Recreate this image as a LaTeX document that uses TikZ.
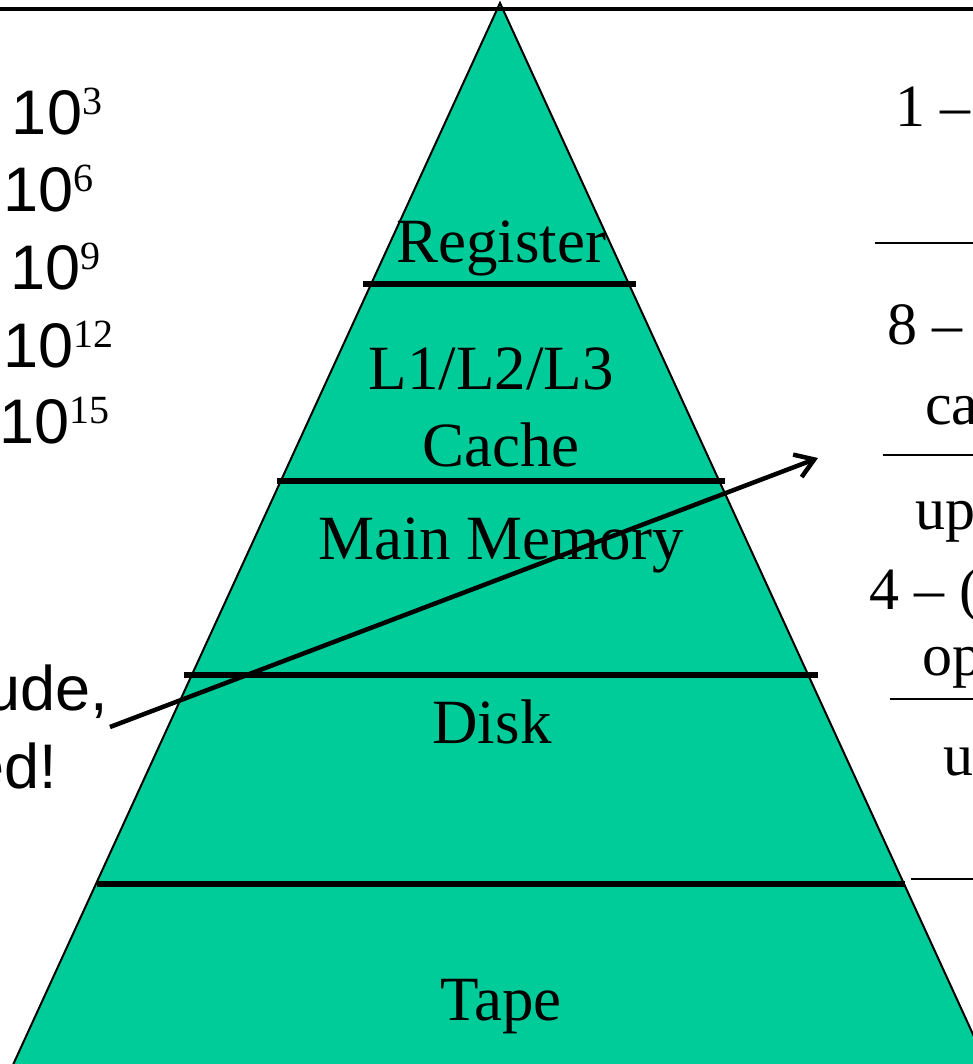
\documentclass[tikz,border=0pt]{standalone}
\usepackage{fontspec}
\setmainfont{Liberation Serif}
\newfontfamily\arialfont{Liberation Sans}
\usetikzlibrary{arrows.meta}
\definecolor{pyrgreen}{RGB}{0,204,153}

% type sizes
\newcommand\lvlfont{\fontsize{63}{70}\selectfont}
\newcommand\colfont{\fontsize{60}{66}\selectfont}
\newcommand\bigsans{\arialfont\fontsize{63}{70}\selectfont}
\newcommand\expsup[1]{\raisebox{20pt}{\rmfamily\fontsize{40}{44}\selectfont #1}}

\begin{document}
\begin{tikzpicture}[x=1pt,y=-1pt,
  txt/.style={inner sep=0pt,outer sep=0pt},
  level/.style={txt,anchor=base,font=\lvlfont},
  colitem/.style={txt,anchor=base west,font=\colfont},
  magn/.style={txt,anchor=base west,font=\bigsans},
  note/.style={txt,anchor=base east,font=\bigsans},
  band/.style={line width=5.5pt},
  colrule/.style={line width=2.4pt},
  pointer/.style={line width=4.5pt,-{Straight Barb[length=18pt,width=24pt]}}]
\useasboundingbox (0,0) rectangle (973,1064);
\clip (0,0) rectangle (973,1064);

% pyramid body
\coordinate (apex) at (500,3);
\coordinate (baseL) at (-49,1200);
\coordinate (baseR) at (1049,1200);
\filldraw[fill=pyrgreen,line width=2pt,line join=miter] (apex) -- (baseL) -- (baseR) -- cycle;

% rule along the top
\coordinate (topL) at (0,9);
\coordinate (topR) at (973,9);
\draw[line width=3.5pt] (topL) -- (topR);

% level separators
\coordinate (s1l) at (363,284); \coordinate (s1r) at (636,284);
\coordinate (s2l) at (277,481); \coordinate (s2r) at (725,481);
\coordinate (s3l) at (184,675); \coordinate (s3r) at (818,675);
\coordinate (s4l) at (97,884);  \coordinate (s4r) at (905,884);
\draw[band] (s1l) -- (s1r);
\draw[band] (s2l) -- (s2r);
\draw[band] (s3l) -- (s3r);
\draw[band] (s4l) -- (s4r);

% level names
\node[level] (reg)   at (501,262)  {Register};
\node[level] (l123)  at (491,389)  {L1/L2/L3};
\node[level] (cache) at (501,466)  {Cache};
\node[level] (mem)   at (501,559)  {Main Memory};
\node[level] (disk)  at (492,743)  {Disk};
\node[level] (tape)  at (501,1020) {Tape};

% orders of magnitude
\node[magn] (e3)  at (12,135) {10\expsup{3}};
\node[magn] (e6)  at (3,212)  {10\expsup{6}};
\node[magn] (e9)  at (10,290) {10\expsup{9}};
\node[magn] (e12) at (3,367)  {10\expsup{12}};
\node[magn] (e15) at (-1,443) {10\expsup{15}};

% note on the left
\node[note] (n1) at (108,710) {ude,};
\node[note] (n2) at (57,788)  {ed!};

% column on the right
\node[colitem] (c1) at (895,127) {1 –};
\node[colitem] (c2) at (887,344) {8 –};
\node[colitem] (c3) at (925,424) {ca};
\node[colitem] (c4) at (915,529) {up};
\node[colitem] (c5) at (869,609) {4 – (};
\node[colitem] (c6) at (922,675) {op};
\node[colitem] (c7) at (943,775) {u};
\coordinate (r1l) at (875,243); \coordinate (r1r) at (973,243);
\coordinate (r2l) at (883,455); \coordinate (r2r) at (973,455);
\coordinate (r3l) at (890,699); \coordinate (r3r) at (973,699);
\coordinate (r4l) at (911,879); \coordinate (r4r) at (973,879);
\draw[colrule] (r1l) -- (r1r);
\draw[colrule] (r2l) -- (r2r);
\draw[colrule] (r3l) -- (r3r);
\draw[colrule] (r4l) -- (r4r);

% pointer across the pyramid
\coordinate (pfrom) at (110,727);
\coordinate (pto) at (818,458);
\draw[pointer] (pfrom) -- (pto);
\end{tikzpicture}
\end{document}
